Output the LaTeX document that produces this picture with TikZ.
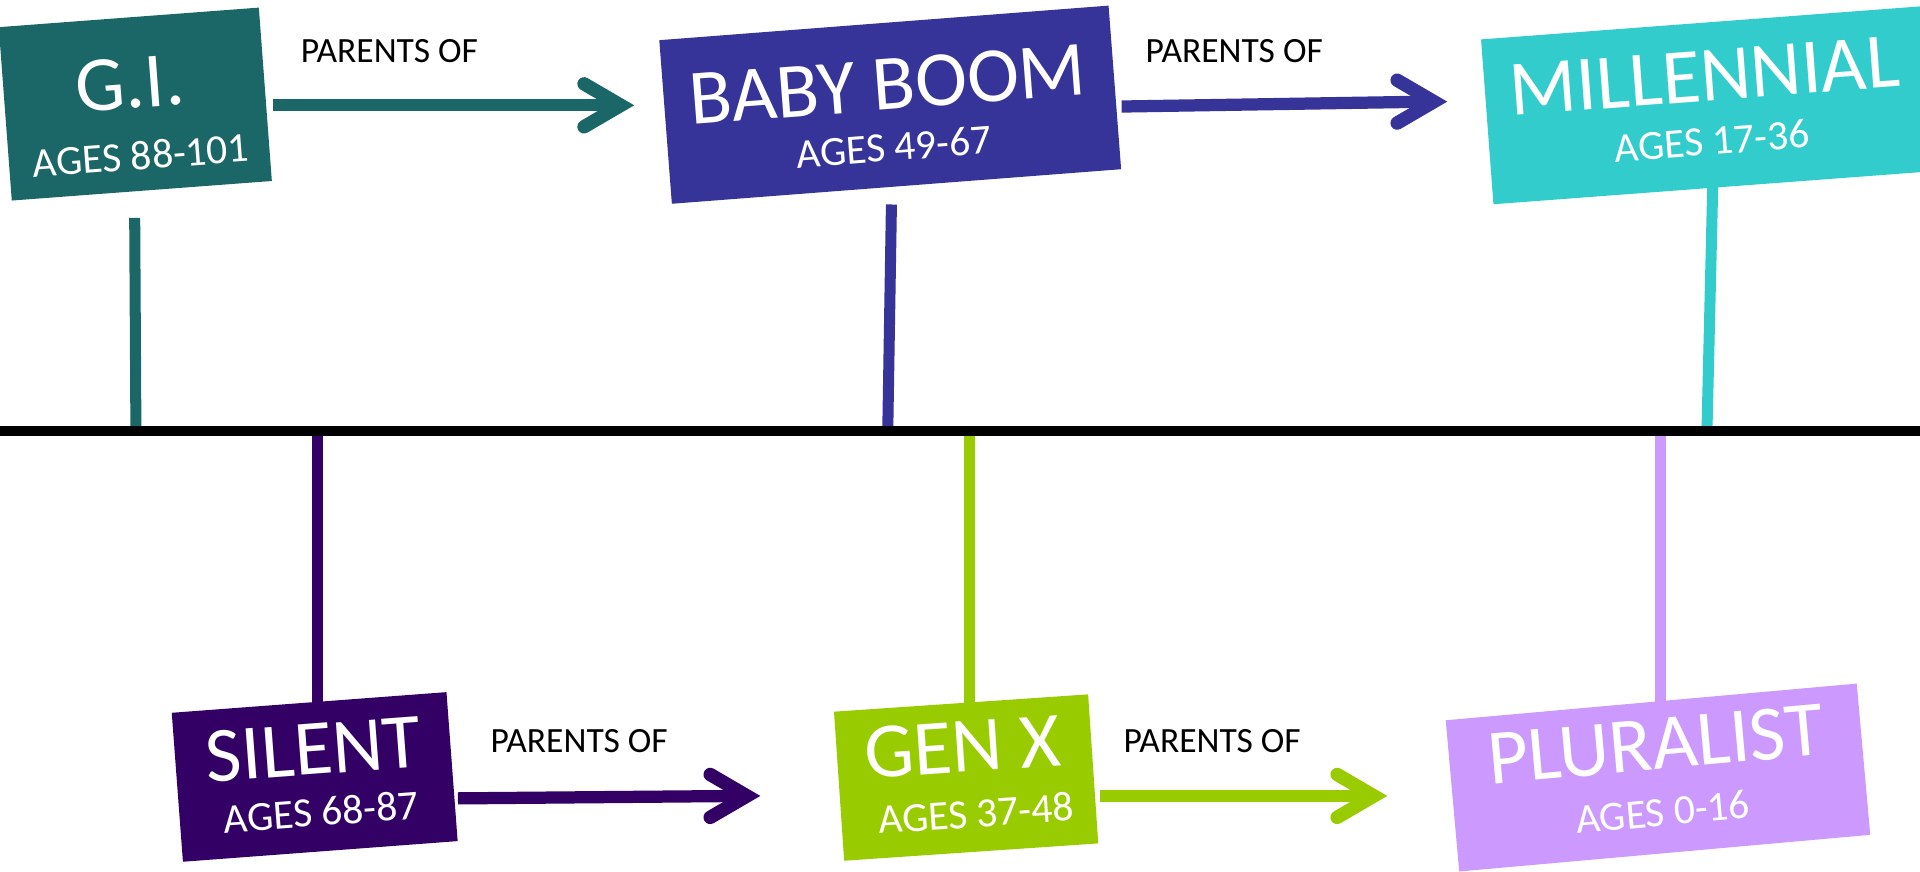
\documentclass[tikz,border=0pt]{standalone}
\usepackage{fontspec}
\setmainfont{Carlito}
\usetikzlibrary{calc}
\definecolor{giC}{HTML}{1B6666}
\definecolor{bbC}{HTML}{363399}
\definecolor{miC}{HTML}{33CCCC}
\definecolor{siC}{HTML}{330066}
\definecolor{gxC}{HTML}{99CC00}
\definecolor{plC}{HTML}{CC99FF}
\tikzset{
  genbox/.style={draw=none, inner sep=0pt, outer sep=0pt},
  gtitle/.style={text=white, inner sep=0pt, font=\fontsize{64}{64}\selectfont},
  gsub/.style={text=white, inner sep=0pt, font=\fontsize{34}{34}\selectfont},
  parlabel/.style={text=black, inner sep=0pt, font=\fontsize{29}{29}\selectfont},
  conn/.style={line width=9pt},
  shaft/.style={line width=10pt},
  pics/chevron/.style={code={
    \draw[line width=11pt, line cap=round, line join=miter, miter limit=10]
      (-41,-17.5) -- (-11,0) -- (-41,17.5);}},
  timeline/.style={line width=8pt, black}
}
\begin{document}
\begin{tikzpicture}[x=1pt,y=-1pt]
\useasboundingbox (0,0) rectangle (1568,712);
\clip (0,0) rectangle (1568,712);
% timeline coordinates
\coordinate (lineL) at (0,352);
\coordinate (lineR) at (1568,352);
% stems (drawn first)
\coordinate (giStem) at (110,178);
\coordinate (giFoot) at (111,352);
\coordinate (bbStem) at (728,167);
\coordinate (bbFoot) at (725,352);
\coordinate (miStem) at (1399,140);
\coordinate (miFoot) at (1394,352);
\coordinate (siFoot) at (259,352);
\coordinate (siStem) at (259,600);
\coordinate (gxFoot) at (792,352);
\coordinate (gxStem) at (792,600);
\coordinate (plFoot) at (1356,352);
\coordinate (plStem) at (1356,600);
\draw[conn, giC] (giStem) -- (giFoot);
\draw[conn, bbC] (bbStem) -- (bbFoot);
\draw[conn, miC] (miStem) -- (miFoot);
\draw[conn, siC] (siFoot) -- (siStem);
\draw[conn, gxC] (gxFoot) -- (gxStem);
\draw[conn, plC] (plFoot) -- (plStem);
\draw[timeline] (lineL) -- (lineR);
% boxes
\node[genbox, fill=giC, minimum width=213pt, minimum height=142pt, rotate=4.3] (gi) at (110.5,85) {};
\node[genbox, fill=bbC, minimum width=368pt, minimum height=134pt, rotate=4.4] (bb) at (727,85.5) {};
\node[genbox, fill=miC, minimum width=400pt, minimum height=135pt, rotate=4.3] (mi) at (1414,84.5) {};
\node[genbox, fill=siC, minimum width=225pt, minimum height=122pt, rotate=4.3] (si) at (257,634.5) {};
\node[genbox, fill=gxC, minimum width=208pt, minimum height=122pt, rotate=3.9] (gx) at (789,635) {};
\node[genbox, fill=plC, minimum width=337pt, minimum height=124pt, rotate=5.1] (pl) at (1354,635) {};
% texts
\node[gtitle, rotate=4.3] (giT) at (106,68) {G.I.};
\node[gsub, rotate=4.3] (giS) at (115,127) {AGES 88-101};
\node[gtitle, rotate=4.4] (bbT) at (725,69) {BABY BOOM};
\node[gsub, rotate=4.4] (bbS) at (730,120) {AGES 49-67};
\node[gtitle, rotate=4.3] (miT) at (1392,62) {MILLENNIAL};
\node[gsub, rotate=4.3] (miS) at (1398,115) {AGES 17-36};
\node[gtitle, rotate=4.3] (siT) at (256,612) {SILENT};
\node[gsub, rotate=4.3] (siS) at (262,663) {AGES 68-87};
\node[gtitle, rotate=3.9] (gxT) at (786,610) {GEN X};
\node[gsub, rotate=3.9] (gxS) at (797,664) {AGES 37-48};
\node[gtitle, rotate=5.1] (plT) at (1352,608) {PLURALIST};
\node[gsub, rotate=5.1] (plS) at (1358,663) {AGES 0-16};
% parents-of labels
\node[parlabel] (p1) at (318,42) {PARENTS OF};
\node[parlabel] (p2) at (1008,42) {PARENTS OF};
\node[parlabel] (p3) at (473,605) {PARENTS OF};
\node[parlabel] (p4) at (990,605) {PARENTS OF};
% arrows
\coordinate (a1s) at (223,86);
\coordinate (a1e) at (518,86);
\coordinate (a2s) at (916,87);
\coordinate (a2e) at (1182,83);
\coordinate (a3s) at (374,652);
\coordinate (a3e) at (621,650);
\coordinate (a4s) at (898,650);
\coordinate (a4e) at (1133,650);
\draw[shaft, giC] (a1s) -- ($(a1e)+(-14,0)$);
\draw[shaft, bbC] (a2s) -- ($(a2e)+(-14,0)$);
\draw[shaft, siC] (a3s) -- ($(a3e)+(-14,0)$);
\draw[shaft, gxC] (a4s) -- ($(a4e)+(-14,0)$);
\pic[color=giC] at (a1e) {chevron};
\pic[color=bbC] at (a2e) {chevron};
\pic[color=siC] at (a3e) {chevron};
\pic[color=gxC] at (a4e) {chevron};
\end{tikzpicture}
\end{document}
